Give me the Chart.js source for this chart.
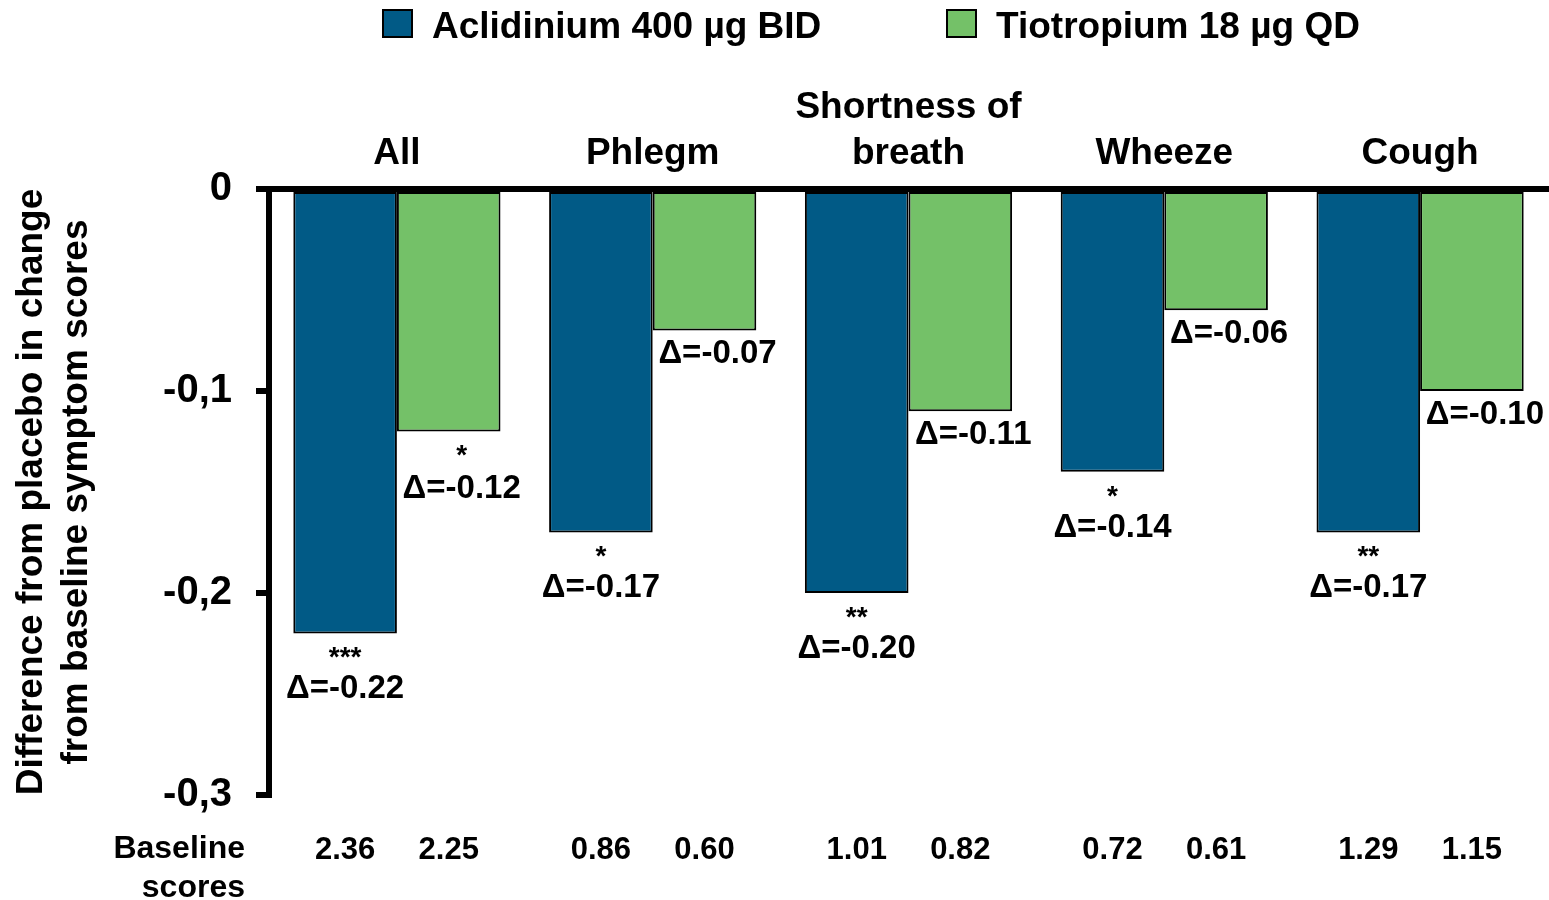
<!DOCTYPE html>
<html>
<head>
<meta charset="utf-8">
<script src="https://cdn.jsdelivr.net/npm/chart.js@4.4.0/dist/chart.umd.min.js"></script>
<style>
  html, body { margin: 0; padding: 0; background: #fff; }
</style>
</head>
<body>
<canvas id="chart" width="1549" height="900"></canvas>
<script>
// data
const categories = ['All', 'Phlegm', ['Shortness of', 'breath'], 'Wheeze', 'Cough'];
const aclidiniumValues = [-0.22, -0.17, -0.20, -0.14, -0.17];
const tiotropiumValues = [-0.12, -0.07, -0.11, -0.06, -0.10];
const aclidiniumStars = ['***', '*', '**', '*', '**'];
const tiotropiumStars = ['*', '', '', '', ''];
const aclidiniumBaseline = ['2.36', '0.86', '1.01', '0.72', '1.29'];
const tiotropiumBaseline = ['2.25', '0.60', '0.82', '0.61', '1.15'];
const yTicks = [0, -0.1, -0.2, -0.3];

const FONT = "'Liberation Sans', Arial, sans-serif";
const BLUE = '#015a86';
const GREEN = '#74c168';

// Tekst under søjlerne, baseline-række og legende
const annotations = {
    id: 'annotations',
    afterDatasetsDraw(chart) {
        const ctx = chart.ctx;
        const starSets = [aclidiniumStars, tiotropiumStars];
        const baselineSets = [aclidiniumBaseline, tiotropiumBaseline];
        ctx.save();
        ctx.fillStyle = '#000';
        ctx.textBaseline = 'middle';
        ctx.textAlign = 'center';

        chart.data.datasets.forEach((ds, d) => {
            const meta = chart.getDatasetMeta(d);
            meta.data.forEach((bar, i) => {
                const x = bar.x + (d === 0 ? 0 : 13);
                const stars = starSets[d][i];
                let y = bar.y;
                if (stars) {
                    ctx.font = 'bold 28px ' + FONT;
                    ctx.fillText(stars, x, y + 25);
                    y += d === 0 ? 56 : 58;
                } else {
                    y += 24;
                }
                ctx.font = 'bold 33px ' + FONT;
                ctx.fillText('Δ=' + ds.data[i].toFixed(2), x, y);

                ctx.font = 'bold 31px ' + FONT;
                ctx.fillText(baselineSets[d][i], bar.x, 850);
            });
        });

        ctx.textAlign = 'right';
        ctx.font = 'bold 32px ' + FONT;
        ctx.fillText('Baseline', 245, 849);
        ctx.fillText('scores', 245, 888);

        // legende
        const legendX = [383, 947];
        ctx.textAlign = 'left';
        ctx.font = 'bold 37px ' + FONT;
        chart.data.datasets.forEach((ds, d) => {
            ctx.fillStyle = ds.backgroundColor;
            ctx.fillRect(legendX[d], 10, 29, 27);
            ctx.strokeStyle = '#000';
            ctx.lineWidth = 2;
            ctx.strokeRect(legendX[d], 10, 29, 27);
            ctx.fillStyle = '#000';
            ctx.fillText(ds.label, legendX[d] + 49, 28);
        });
        ctx.restore();
    }
};

const ctx = document.getElementById('chart').getContext('2d');
new Chart(ctx, {
    type: 'bar',
    data: {
        labels: categories,
        datasets: [{
            label: 'Aclidinium 400 µg BID',
            data: aclidiniumValues,
            backgroundColor: BLUE,
            borderColor: '#000',
            borderWidth: 2,
            borderSkipped: false
        }, {
            label: 'Tiotropium 18 µg QD',
            data: tiotropiumValues,
            backgroundColor: GREEN,
            borderColor: '#000',
            borderWidth: 2,
            borderSkipped: false
        }]
    },
    options: {
        responsive: false,
        animation: false,
        layout: { padding: { top: 0, left: 0, right: 1, bottom: 105 } },
        categoryPercentage: 0.81,
        barPercentage: 1.0,
        scales: {
            x: {
                position: 'top',
                grid: { display: false, drawTicks: false },
                border: { display: true, color: '#000', width: 6 },
                ticks: {
                    color: '#000',
                    font: { family: FONT, size: 37, weight: 'bold', lineHeight: 1.25 },
                    padding: 12,
                    maxRotation: 0,
                    autoSkip: false
                },
                afterFit: scale => { scale.height = 189; }
            },
            y: {
                min: -0.3,
                max: 0,
                afterBuildTicks: scale => {
                    scale.ticks = yTicks.map(v => ({ value: v }));
                },
                grid: {
                    display: true,
                    drawOnChartArea: false,
                    drawTicks: true,
                    tickLength: 13,
                    lineWidth: 6,
                    color: '#000'
                },
                border: { display: true, color: '#000', width: 6 },
                ticks: {
                    color: '#000',
                    font: { family: FONT, size: 40, weight: 'bold' },
                    padding: 24,
                    callback: v => Math.abs(v) < 1e-9 ? '0' : v.toFixed(1).replace('.', ',')
                },
                title: {
                    display: true,
                    text: ['Difference from placebo in change', 'from baseline symptom scores'],
                    color: '#000',
                    font: { family: FONT, size: 37, weight: 'bold', lineHeight: 1.2 },
                    padding: { top: 10, bottom: 0 }
                },
                afterFit: scale => { scale.width = 269; }
            }
        },
        plugins: {
            legend: { display: false },
            tooltip: { enabled: false }
        }
    },
    plugins: [annotations]
});
</script>
</body>
</html>
